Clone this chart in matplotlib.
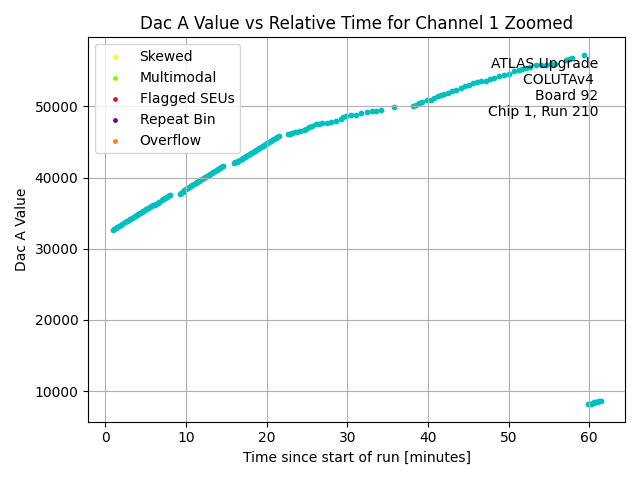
import matplotlib
matplotlib.use('Agg')
import matplotlib.pyplot as plt

# values (time in minutes, DAC A code)
time_min = [
    0.9, 1.1, 1.3, 1.5, 1.7, 1.9, 2.1, 2.5, 2.7, 2.9, 3.1, 3.3, 3.5, 3.7, 3.9,
    4.1, 4.3, 4.5, 4.7, 4.9, 5.1, 5.3, 5.5, 5.7, 5.9, 6.1, 6.3, 6.5, 6.7, 7.0,
    7.2, 7.4, 7.6, 7.8, 8.0,
    9.2, 9.4, 9.6, 9.8, 10.0, 10.2, 10.4, 10.6, 10.8, 11.0, 11.2, 11.4, 11.6,
    11.8, 12.0, 12.2, 12.4, 12.6, 12.8, 13.0, 13.2, 13.4, 13.6, 13.8, 14.0,
    14.2, 14.4, 14.6,
    15.9, 16.1, 16.3, 16.5, 16.7, 16.9, 17.1, 17.3, 17.5, 17.7, 17.9, 18.1,
    18.3, 18.5, 18.7, 18.9, 19.1, 19.3, 19.5, 19.7, 19.9, 20.1, 20.3, 20.5,
    20.7, 20.9, 21.1, 21.3, 21.5,
    22.6, 22.9, 23.2, 23.5, 23.8, 24.1, 24.6, 24.9, 25.3, 25.6, 26.1, 26.5,
    26.9, 27.5, 28.0, 28.6, 29.2, 29.5, 29.8, 30.4, 31.1, 31.7, 32.5, 33.1,
    33.5, 34.2, 35.8,
    38.1, 38.5, 38.9, 39.3, 39.9, 40.4, 40.8, 41.2, 41.6, 42.0, 42.5, 43.0,
    43.5, 44.1, 44.6, 45.1, 45.6, 46.1, 46.6, 47.2, 47.7, 48.2, 48.8, 49.4,
    50.1, 50.7, 51.3, 51.7, 52.1, 52.7, 53.4, 54.0, 54.6, 55.2, 55.8, 57.1,
    57.5, 57.9, 59.4,
    59.8, 60.0, 60.2, 60.4, 60.6, 60.8, 61.0, 61.2, 61.4,
]
dac_a = [
    32600, 32740, 32880, 33020, 33160, 33300, 33430, 33710, 33850, 33990, 34130,
    34270, 34410, 34550, 34690, 34830, 34970, 35100, 35240, 35380, 35520, 35660,
    35800, 35940, 36080, 36210, 36350, 36490, 36630, 36840, 36980, 37120, 37260,
    37400, 37540,
    37730, 37850, 37990, 38200, 38450, 38580, 38700, 38820, 38950, 39070, 39200,
    39350, 39480, 39630, 39770, 39900, 40040, 40180, 40310, 40450, 40590, 40730,
    40870, 41020, 41170, 41330, 41480, 41600,
    42000, 42120, 42250, 42380, 42510, 42640, 42760, 42890, 43020, 43140, 43270,
    43400, 43530, 43660, 43800, 43940, 44080, 44220, 44360, 44500, 44640, 44780,
    44920, 45070, 45210, 45360, 45510, 45660, 45780,
    46050, 46150, 46250, 46350, 46450, 46560, 46700, 46800, 47060, 47200, 47530,
    47580, 47620, 47720, 47860, 48000, 48280, 48450, 48600, 48840, 48840, 49070,
    49160, 49300, 49340, 49540, 49860,
    50000, 50230, 50420, 50600, 50840, 50940, 51150, 51400, 51560, 51720, 51900,
    52100, 52330, 52560, 52800, 53030, 53220, 53400, 53500, 53590, 53780, 53960,
    54200, 54430, 54570, 54900, 55130, 55250, 55360, 55550, 55730, 55780, 55830,
    55880, 55920, 56540, 56650, 56770, 57230,
    8170, 8200, 8250, 8350, 8420, 8460, 8500, 8560, 8620,
]

# flag categories (none present in this zoomed range)
flag_labels = ['Skewed', 'Multimodal', 'Flagged SEUs', 'Repeat Bin', 'Overflow']
flag_colors = ['yellow', 'lawngreen', 'crimson', 'purple', 'tab:orange']

fig, ax = plt.subplots(figsize=(6.4, 4.8), dpi=100)

ax.scatter(time_min, dac_a, c='c', s=10)
for lab, col in zip(flag_labels, flag_colors):
    ax.scatter([], [], c=col, s=6, label=lab)

ax.text(0.95, 0.95, 'ATLAS Upgrade\nCOLUTAv4 \nBoard 92\nChip 1, Run 210',
        transform=ax.transAxes, ha='right', va='top', multialignment='right')

ax.set_title('Dac A Value vs Relative Time for Channel 1 Zoomed')
ax.set_xlabel('Time since start of run [minutes]')
ax.set_ylabel('Dac A Value')
ax.grid(True)
ax.legend(loc='upper left')

plt.tight_layout()
plt.savefig('out.png')
